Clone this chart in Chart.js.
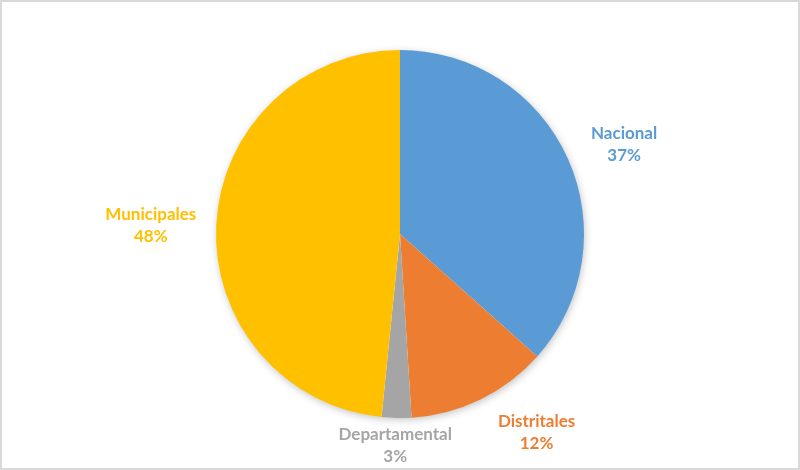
<!DOCTYPE html>
<html>
<head>
<meta charset="utf-8">
<script src="https://cdn.jsdelivr.net/npm/chart.js@4.4.0/dist/chart.umd.min.js"></script>
<style>
  html, body { margin: 0; padding: 0; background: #fff; }
  #wrap {
    width: 800px; height: 470px; box-sizing: border-box;
    border: 2px solid #d9d9d9; background: #fff;
  }
</style>
</head>
<body>
<div id="wrap"><canvas id="pieChart" width="796" height="466"></canvas></div>
<script>
// chart data
const categories = ['Nacional', 'Distritales', 'Departamental', 'Municipales'];
const shares = [36.6, 12.4, 2.6, 48.4];
const sliceColors = ['#5b9bd5', '#ed7d31', '#a5a5a5', '#ffc000'];

// label nudges (px) to mimic Excel's best-fit placement
const labelNudge = [[15, 0], [34, 2], [0, -6], [-8, 2]];

// soft shadow behind the pie
const pieShadow = {
  id: 'pieShadow',
  beforeDatasetsDraw(chart) {
    const arc = chart.getDatasetMeta(0).data[0];
    if (!arc) return;
    const ctx = chart.ctx;
    ctx.save();
    ctx.shadowColor = 'rgba(0,0,0,0.28)';
    ctx.shadowBlur = 8;
    ctx.shadowOffsetX = 1;
    ctx.shadowOffsetY = 2;
    ctx.fillStyle = '#fff';
    ctx.beginPath();
    ctx.arc(arc.x, arc.y, arc.outerRadius - 1, 0, Math.PI * 2);
    ctx.fill();
    ctx.restore();
  }
};

// outside labels: category + rounded percent
const outsideLabels = {
  id: 'outsideLabels',
  afterDatasetsDraw(chart) {
    const ctx = chart.ctx;
    const meta = chart.getDatasetMeta(0);
    const total = shares.reduce((a, b) => a + b, 0);
    ctx.save();
    ctx.font = 'bold 17px Lato, "Open Sans", sans-serif';
    ctx.textAlign = 'center';
    ctx.textBaseline = 'middle';
    const lineH = 22;
    meta.data.forEach((arc, i) => {
      const mid = (arc.startAngle + arc.endAngle) / 2;
      const r = arc.outerRadius + 12;
      const ax = arc.x + Math.cos(mid) * r;
      const ay = arc.y + Math.sin(mid) * r;
      const lines = [categories[i], Math.round(shares[i] / total * 100) + '%'];
      const w = Math.max(...lines.map(t => ctx.measureText(t).width));
      const h = lineH * lines.length;
      const cx = ax + Math.cos(mid) * w / 2 + labelNudge[i][0];
      const cy = ay + Math.sin(mid) * h / 2 + labelNudge[i][1];
      ctx.fillStyle = sliceColors[i];
      lines.forEach((t, j) => {
        ctx.fillText(t, cx, cy - h / 2 + lineH / 2 + j * lineH);
      });
    });
    ctx.restore();
  }
};

new Chart(document.getElementById('pieChart'), {
  type: 'pie',
  data: {
    labels: categories,
    datasets: [{
      data: shares,
      backgroundColor: sliceColors,
      borderWidth: 0
    }]
  },
  options: {
    responsive: false,
    animation: false,
    layout: { padding: { top: 48, bottom: 50, left: 0, right: 0 } },
    plugins: {
      legend: { display: false },
      tooltip: { enabled: false }
    }
  },
  plugins: [pieShadow, outsideLabels]
});
</script>
</body>
</html>
